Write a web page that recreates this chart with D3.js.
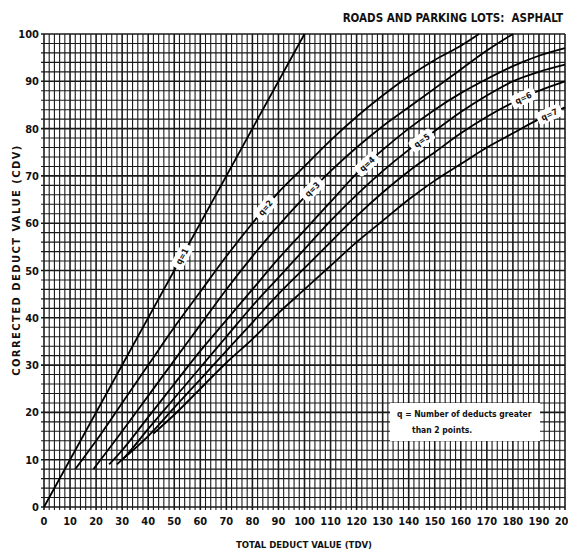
<!DOCTYPE html>
<html>
<head>
<meta charset="utf-8">
<script src="https://cdn.jsdelivr.net/npm/d3@7"></script>
<style>
  body { margin: 0; background: #fff; }
  svg { display: block; }
  text { font-family: "DejaVu Sans Condensed", "Liberation Sans Narrow", "DejaVu Sans", sans-serif; font-stretch: condensed; font-weight: bold; fill: #111; }
</style>
</head>
<body>
<svg id="chart" width="568" height="555"></svg>
<script>
// tick labels
var xTicks = d3.range(0, 201, 10);
var yTicks = d3.range(0, 101, 10);

// curves: [TDV, CDV]
var q1 = [[0,0],[100,100]];
var q2 = [[12,8],[20,14],[30,22],[40,30],[50,38],[60,45.5],[70,53],[80,60],[90,66.5],[100,72],[110,77.5],[120,82.5],[130,87],[140,91],[150,94.5],[160,97.5],[167,100]];
var q3 = [[19,8],[30,16],[40,23.5],[50,31],[60,38.5],[70,46],[80,53],[90,59.5],[100,65.5],[110,71],[120,76],[130,80.5],[140,84.5],[150,88.5],[160,92.5],[170,96.5],[180,100]];
var q4 = [[25,9],[30,12],[40,19],[50,26],[60,33],[70,39.5],[80,46],[90,52.5],[100,58.5],[110,64.5],[120,70.5],[130,75.5],[140,80],[150,84],[160,87.5],[170,90.5],[180,93.2],[190,95.4],[200,97]];
var q5 = [[28,9],[30,10],[40,16.5],[50,23],[60,29.5],[70,36],[80,42.5],[90,48.5],[100,54.5],[110,60.5],[120,66],[130,71],[140,75.5],[150,79.5],[160,83.5],[170,87],[180,90],[190,92],[200,93.5]];
var q6 = [[30,10],[40,15],[50,21],[60,27],[70,33],[80,39],[90,45],[100,50.5],[110,56],[120,61.5],[130,66.5],[140,71],[150,75],[160,79],[170,82.5],[180,85.5],[190,88],[200,90]];
var q7 = [[42,15.5],[50,19.5],[60,25],[70,30.5],[80,35.5],[90,41],[100,46],[110,51],[120,56],[130,60.5],[140,65],[150,69],[160,72.5],[170,76],[180,79],[190,82],[200,84.5]];

var curves = [q1, q2, q3, q4, q5, q6, q7];
var curveNames = ["q=1", "q=2", "q=3", "q=4", "q=5", "q=6", "q=7"];
var labelTdv = [53, 85, 103, 124, 145, 184, 194];

var svg = d3.select("#chart");
var pLeft = 44, pRight = 565, pTop = 34, pBottom = 507;

var x = d3.scaleLinear().domain([0, 200]).range([pLeft, pRight]);
var y = d3.scaleLinear().domain([0, 100]).range([pBottom, pTop]);

svg.append("rect").attr("x", 0).attr("y", 0).attr("width", 568).attr("height", 555).attr("fill", "#fff");

// grid, every 2 units
var grid = svg.append("g");
grid.selectAll(".vx")
  .data(d3.range(0, 201, 2))
  .enter().append("line")
    .attr("x1", function(d) { return x(d); })
    .attr("x2", function(d) { return x(d); })
    .attr("y1", pTop)
    .attr("y2", pBottom + 3)
    .attr("stroke", "#1a1a1a")
    .attr("stroke-width", function(d) { return d % 10 == 0 ? 1.6 : 1.1; });

grid.selectAll(".hy")
  .data(d3.range(0, 101, 2))
  .enter().append("line")
    .attr("x1", pLeft - 3)
    .attr("x2", pRight)
    .attr("y1", function(d) { return y(d); })
    .attr("y2", function(d) { return y(d); })
    .attr("stroke", "#1a1a1a")
    .attr("stroke-width", function(d) { return d % 10 == 0 ? 1.6 : 1.1; });

// tick labels
svg.append("g").selectAll("text")
  .data(xTicks)
  .enter().append("text")
    .attr("x", function(d) { return x(d); })
    .attr("y", pBottom + 18)
    .attr("text-anchor", "middle")
    .attr("font-size", 11)
    .text(function(d) { return d; });

svg.append("g").selectAll("text")
  .data(yTicks)
  .enter().append("text")
    .attr("x", pLeft - 5)
    .attr("y", function(d) { return y(d) + 4; })
    .attr("text-anchor", "end")
    .attr("font-size", 11)
    .text(function(d) { return d; });

// curves
var line = d3.line()
  .x(function(d) { return x(d[0]); })
  .y(function(d) { return y(d[1]); })
  .curve(d3.curveMonotoneX);

svg.append("g").selectAll("path")
  .data(curves)
  .enter().append("path")
    .attr("d", line)
    .attr("fill", "none")
    .attr("stroke", "#000")
    .attr("stroke-width", 1.8);

// q labels sitting on the curves
curves.forEach(function(c, i) {
  var t = labelTdv[i];
  var interp = d3.scaleLinear().domain(c.map(function(p) { return p[0]; })).range(c.map(function(p) { return p[1]; }));
  var px = x(t), py = y(interp(t));
  var dx = x(t + 2) - x(t - 2), dy = y(interp(t + 2)) - y(interp(t - 2));
  var ang = Math.atan2(dy, dx) * 180 / Math.PI;
  var g = svg.append("g").attr("transform", "translate(" + px + "," + py + ") rotate(" + ang + ")");
  g.append("rect").attr("x", -13).attr("y", -6.5).attr("width", 26).attr("height", 13).attr("rx", 3).attr("fill", "#fff");
  g.append("text").attr("x", 0).attr("y", 3).attr("text-anchor", "middle").attr("font-size", 8.5).text(curveNames[i]);
});

// legend note
svg.append("rect").attr("x", 390).attr("y", 403).attr("width", 150).attr("height", 38).attr("fill", "#fff");
svg.append("text").attr("x", 397).attr("y", 417).attr("font-size", 8.5).text("q = Number of deducts greater");
svg.append("text").attr("x", 412).attr("y", 433).attr("font-size", 8.5).text("than 2 points.");

// titles
svg.append("text").attr("x", 563).attr("y", 22).attr("text-anchor", "end").attr("font-size", 11.5)
  .text("ROADS AND PARKING LOTS:\u00a0 ASPHALT");
svg.append("text").attr("x", 304).attr("y", 548).attr("text-anchor", "middle").attr("font-size", 9.5)
  .text("TOTAL DEDUCT VALUE (TDV)");
svg.append("text").attr("transform", "translate(20,260) rotate(-90)").attr("text-anchor", "middle")
  .attr("font-size", 11).attr("letter-spacing", 1.5)
  .text("CORRECTED DEDUCT VALUE (CDV)");
</script>
</body>
</html>
